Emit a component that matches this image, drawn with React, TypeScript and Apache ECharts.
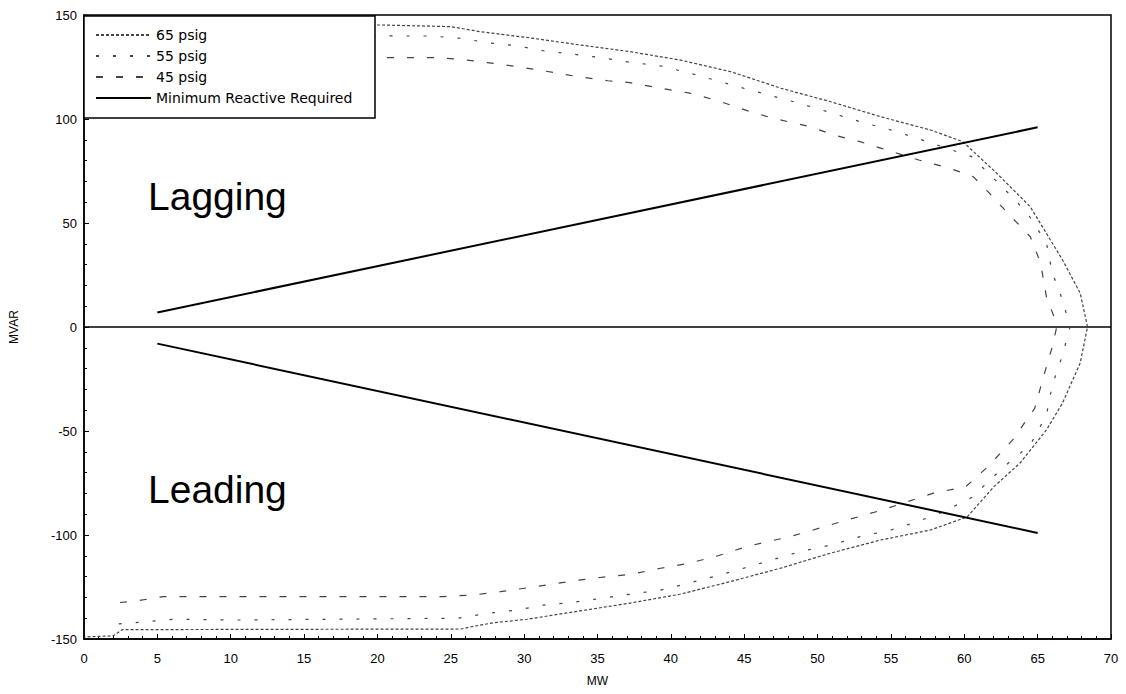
import React, { useEffect, useRef } from "react";
import * as echarts from "echarts";

const legendNames = ["65 psig", "55 psig", "45 psig", "Minimum Reactive Required"];
const xTicks = { min: 0, max: 70, interval: 5 };
const yTicks = { min: -150, max: 150, interval: 50 };

const psig65: number[][] = [
  [0, 149], [2, 148.5], [2.6, 145.5], [20.2, 145.2], [25, 144.4], [27, 142], [30.4, 139],
  [33.8, 135.6], [37.2, 132.4], [40.6, 128.4], [44.1, 122.7], [47.5, 114.8], [50.9, 108.3],
  [54.3, 101.1], [57.7, 94.7], [59.9, 89.1], [62.2, 74], [64.5, 57.8], [66.7, 32.2],
  [67.9, 16.3], [68.4, 0], [67.9, -17.3], [66.7, -36.5], [65.6, -49.5], [63.8, -65.4],
  [62, -76.9], [60.2, -91.3], [57.7, -97.6], [54.3, -102.4], [50.9, -108.7], [47.5, -115.9],
  [44, -122.5], [40.6, -128.5], [37, -133], [33.8, -136.5], [30.2, -140.5], [27.9, -142.2],
  [26.4, -144.1], [25.7, -145.2], [2.6, -145.5], [2, -148.5], [0, -149],
];

const psig55: number[][] = [
  [2.3, 142.8], [4.2, 141.7], [6.1, 140.5], [10, 140.5], [21.6, 139.9], [23.6, 139.9],
  [25.7, 138.8], [27.5, 136.7], [29.6, 135.1], [31.3, 132.8], [33.4, 131.1], [35.2, 129.5],
  [37.2, 127.3], [39.3, 125.5], [41.3, 122], [43.2, 118.3], [45.2, 114.3], [48.8, 107.5],
  [52.9, 98.7], [55, 94.7], [56.8, 90.7], [60.5, 81.9], [62.5, 68], [64.3, 54.8],
  [65.6, 40.4], [66, 26], [66.7, 13], [67.2, 0], [66.7, -13.5], [66, -27.9], [65.6, -42.3],
  [64.5, -56.7], [62.7, -67.2], [60.5, -82], [58.5, -89], [56.8, -93.6], [55, -97.6],
  [52.9, -100.8], [50.9, -104.8], [48.8, -108], [45.2, -115.5], [43.2, -119.5],
  [41.3, -123], [39.3, -126.5], [37.2, -128.5], [35.2, -130.5], [33.4, -132.3],
  [31.3, -133.7], [29.6, -136], [27.6, -137.6], [25.5, -140], [10, -140.9], [6.1, -140.5],
  [4.2, -141.7], [2.3, -142.8],
];

const psig45: number[][] = [
  [1.6, 132.9], [3.3, 132], [5.4, 129.5], [24, 129.5], [25.7, 128.7], [27.5, 127.1],
  [29.6, 125.1], [31.3, 123.2], [33.4, 120.7], [35.7, 118.4], [37.2, 117.5], [39.3, 114.8],
  [41.3, 112.4], [43.2, 108.8], [45.2, 104], [47, 100.3], [49.5, 96.3], [51.1, 92.3],
  [52.9, 89.1], [56.9, 80.3], [59, 76.3], [60.6, 72.3], [61.3, 67.5], [62.6, 57.5],
  [64.5, 43.4], [65.2, 30.8], [65.6, 14.4], [66.2, 3.4], [66.3, 0], [66, -9.5],
  [65.4, -23.9], [64.8, -39.1], [63.3, -54.3], [61.6, -67.2], [60.1, -76.8], [57.9, -79.9],
  [54.4, -88], [52, -92.8], [49.7, -97.6], [48.1, -100.8], [45.2, -105.5], [43.2, -110],
  [41.3, -113.5], [39.3, -116], [37.2, -119], [35.7, -120], [33.4, -122], [30.4, -125.2],
  [28.4, -127.2], [26.6, -128.8], [24.5, -129.6], [5.4, -129.6], [3.3, -132], [1.6, -132.9],
];

const minLagging: number[][] = [[5, 7], [65, 96]];
const minLeading: number[][] = [[5, -8], [65, -99]];
const zeroLine: number[][] = [[0, 0], [70, 0]];
const regionLabels = ["Lagging", "Leading"];

export default function App() {
  const ref = useRef<HTMLDivElement>(null);
  useEffect(() => {
    if (!ref.current) return;
    const chart = echarts.init(ref.current, undefined, { renderer: "svg" });
    const curve = (name: string, data: number[][], dash: number[], color: string) => ({
      name,
      type: "line",
      data,
      symbol: "none",
      showSymbol: false,
      z: 2,
      lineStyle: { color, width: 1.2, type: dash },
      itemStyle: { color },
    });
    chart.setOption({
      animation: false,
      backgroundColor: "#fff",
      textStyle: { fontFamily: "Liberation Sans", color: "#000" },
      grid: {
        left: 83, right: 15, top: 15, bottom: 55,
        show: true, borderColor: "#000", borderWidth: 1.5, backgroundColor: "#fff",
      },
      legend: {
        data: legendNames,
        orient: "vertical",
        left: 95,
        top: 28,
        padding: 0,
        itemWidth: 55,
        itemHeight: 14,
        itemGap: 7,
        itemStyle: { opacity: 0, borderWidth: 0 },
        textStyle: { fontSize: 14, color: "#000", fontFamily: "DejaVu Sans" },
        z: 5,
      },
      xAxis: {
        type: "value",
        min: xTicks.min,
        max: xTicks.max,
        interval: xTicks.interval,
        name: "MW",
        nameLocation: "middle",
        nameGap: 36,
        nameTextStyle: { fontSize: 12, color: "#000" },
        axisLine: { show: true, onZero: false, lineStyle: { color: "#000", width: 1.5 } },
        axisTick: { show: true, inside: true, length: 5, lineStyle: { color: "#000" } },
        minorTick: { show: true, splitNumber: 5, length: 3, lineStyle: { color: "#000" } },
        splitLine: { show: false },
        axisLabel: { fontSize: 13, color: "#000", margin: 13 },
      },
      yAxis: {
        type: "value",
        min: yTicks.min,
        max: yTicks.max,
        interval: yTicks.interval,
        name: "MVAR",
        nameLocation: "middle",
        nameGap: 64,
        nameRotate: 90,
        nameTextStyle: { fontSize: 12, color: "#000" },
        axisLine: { show: true, onZero: false, lineStyle: { color: "#000", width: 1.5 } },
        axisTick: { show: true, inside: true, length: 5, lineStyle: { color: "#000" } },
        minorTick: { show: true, splitNumber: 5, length: 3, lineStyle: { color: "#000" } },
        splitLine: { show: false },
        axisLabel: { fontSize: 13, color: "#000", margin: 7 },
      },
      graphic: [
        {
          type: "rect",
          shape: { x: 84, y: 16, width: 291, height: 102 },
          style: { fill: "#fff", stroke: "#000", lineWidth: 1.5 },
          z: 4,
        },
        {
          type: "text",
          left: 148,
          top: 177,
          style: { text: regionLabels[0], font: "39px 'Liberation Sans'", fill: "#000" },
          z: 5,
        },
        {
          type: "text",
          left: 148,
          top: 470,
          style: { text: regionLabels[1], font: "39px 'Liberation Sans'", fill: "#000" },
          z: 5,
        },
      ],
      series: [
        {
          name: "zero",
          type: "line",
          data: zeroLine,
          symbol: "none",
          silent: true,
          z: 1,
          lineStyle: { color: "#000", width: 1.5, type: "solid" },
        },
        curve(legendNames[0], psig65, [3, 2], "#444"),
        curve(legendNames[1], psig55, [3, 14], "#444"),
        curve(legendNames[2], psig45, [7, 13], "#444"),
        {
          name: legendNames[3],
          type: "line",
          data: minLagging,
          symbol: "none",
          z: 3,
          lineStyle: { color: "#000", width: 2, type: "solid" },
          itemStyle: { color: "#000" },
        },
        {
          name: legendNames[3],
          type: "line",
          data: minLeading,
          symbol: "none",
          z: 3,
          lineStyle: { color: "#000", width: 2, type: "solid" },
          itemStyle: { color: "#000" },
        },
      ],
    });
    return () => chart.dispose();
  }, []);
  return (
    <div
      ref={ref}
      style={{ position: "absolute", left: 0, top: 0, width: 1126, height: 694 }}
    />
  );
}
